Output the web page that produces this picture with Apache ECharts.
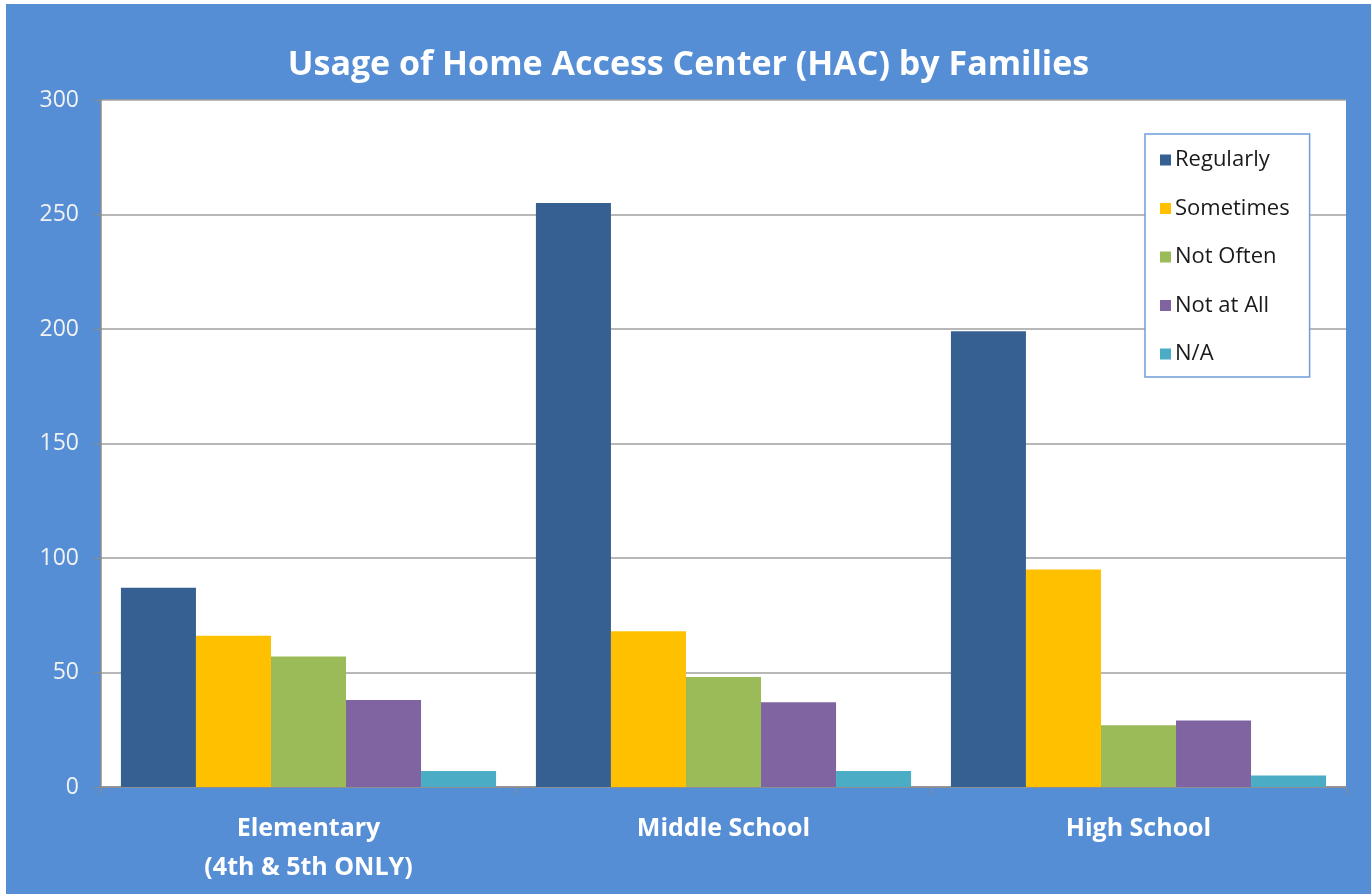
<!DOCTYPE html>
<html>
<head>
<meta charset="utf-8">
<script src="https://cdn.jsdelivr.net/npm/echarts@6/dist/echarts.min.js"></script>
<style>
  html, body { margin: 0; padding: 0; background: #fff; }
  #chart { position: absolute; left: 6px; top: 4px; width: 1365px; height: 890px; }
</style>
</head>
<body>
<div id="chart"></div>
<script>
// categories and values
const categories = ['Elementary\n(4th & 5th ONLY)', 'Middle School', 'High School'];
const seriesNames = ['Regularly', 'Sometimes', 'Not Often', 'Not at All', 'N/A'];
const regularly = [87, 255, 199];
const sometimes = [66, 68, 95];
const notOften = [57, 48, 27];
const notAtAll = [38, 37, 29];
const notApplicable = [7, 7, 5];
const colors = ['#376092', '#FFC000', '#9BBB59', '#8064A2', '#4BACC6'];

const font = '"Open Sans", sans-serif';
const allData = [regularly, sometimes, notOften, notAtAll, notApplicable];

const chart = echarts.init(document.getElementById('chart'), null, { renderer: 'canvas' });

chart.setOption({
    backgroundColor: '#558ED5',
    color: colors,
    animation: false,
    textStyle: { fontFamily: font },
    title: {
        text: 'Usage of Home Access Center (HAC) by Families',
        left: 'center',
        top: 39,
        textStyle: { color: '#fff', fontSize: 34, fontWeight: 'bold', fontFamily: font }
    },
    legend: {
        orient: 'vertical',
        left: 1139,
        top: 130,
        data: seriesNames,
        icon: 'rect',
        itemWidth: 11,
        itemHeight: 11,
        itemGap: 26.5,
        padding: [15, 20, 12, 15],
        backgroundColor: '#fff',
        borderColor: '#6F9FDB',
        borderWidth: 1.5,
        borderRadius: 0,
        selectedMode: false,
        textStyle: { color: '#1a1a1a', fontSize: 22, fontFamily: font, padding: [0, 0, 0, -1] }
    },
    grid: {
        left: 95,
        top: 96,
        width: 1245,
        height: 687,
        show: true,
        backgroundColor: '#fff',
        borderWidth: 0
    },
    xAxis: {
        type: 'category',
        data: categories,
        axisLine: { lineStyle: { color: '#8C8C8C', width: 1.5 } },
        axisTick: { show: true, length: 7, interval: 0, lineStyle: { color: '#8C8C8C' } },
        axisLabel: {
            color: '#fff',
            fontSize: 25,
            fontWeight: 'bold',
            lineHeight: 39,
            margin: 22,
            interval: 0
        }
    },
    yAxis: {
        type: 'value',
        min: 0,
        max: 300,
        interval: 50,
        axisLine: { show: true, lineStyle: { color: '#8C8C8C', width: 1.5 } },
        axisTick: { show: true, length: 7, lineStyle: { color: '#8C8C8C' } },
        splitLine: { lineStyle: { color: '#A0A0A0', width: 1.5 } },
        axisLabel: { color: '#F2F2F2', fontSize: 23, margin: 22 }
    },
    series: seriesNames.map((name, i) => ({
        name: name,
        type: 'bar',
        data: allData[i],
        barGap: '0%',
        barCategoryGap: '9.6%',
        itemStyle: { color: colors[i] }
    }))
});
</script>
</body>
</html>
